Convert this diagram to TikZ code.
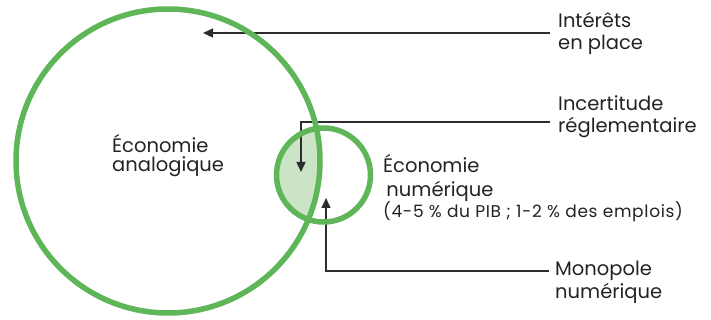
\documentclass[tikz,border=0pt]{standalone}
\usepackage{fontspec}
\setmainfont{Poppins}
\usetikzlibrary{arrows.meta}
\definecolor{ringgreen}{RGB}{94,182,88}
\definecolor{lensgreen}{RGB}{204,228,198}
\definecolor{linegray}{RGB}{45,45,45}
\definecolor{textgray}{RGB}{35,35,35}
\tikzset{
  ring/.style={draw=ringgreen, line width=5.5pt},
  pointer/.style={draw=linegray, line width=1.4pt, -{Triangle[length=10pt,width=9pt]}},
  label/.style={anchor=base west, align=left, inner sep=0pt, text=textgray,
                font=\fontsize{19.5}{22}\selectfont},
}
\begin{document}
\begin{tikzpicture}[x=1pt,y=-1pt]
\useasboundingbox (0,0) rectangle (711,320);
% lens
\begin{scope}
  \clip (168,161) circle (152);
  \fill[lensgreen] (323.5,175) circle (47);
\end{scope}
% label nodes (base = baseline of last line)
\node[label] (interets) at (558,50) {Intérêts\\en place};
\node[label] (incert) at (558,133) {Incertitude\\réglementaire};
\node[label, font=\fontsize{19.5}{23}\selectfont] (monop) at (555,298) {Monopole\\numérique};
\node[label, font=\fontsize{19.5}{19.5}\selectfont] (analog) at (112,172) {Économie\\analogique};
\node[label, font=\fontsize{19.5}{24}\selectfont] (numer) at (383,218) {Économie\\\,numérique\\[-3pt]{\fontsize{17}{17}\selectfont\addfontfeature{LetterSpace=4}(4-5 \% du PIB ; 1-2 \% des emplois)}};
% arrow coordinates
\coordinate (tipA) at (203,33);
\coordinate (startA) at (550,33);
\coordinate (startB) at (550,122);
\coordinate (bendB) at (301,122);
\coordinate (tipB) at (301,172);
\coordinate (startC) at (549,271);
\coordinate (bendC) at (326,271);
\coordinate (tipC) at (326,198);
\draw[pointer] (startA) -- (tipA);
\draw[pointer] (startB) -- (bendB) -- (tipB);
\draw[pointer] (startC) -- (bendC) -- (tipC);
% circles
\draw[ring] (168,161) circle (152);
\draw[ring] (323.5,175) circle (47);
\end{tikzpicture}
\end{document}
